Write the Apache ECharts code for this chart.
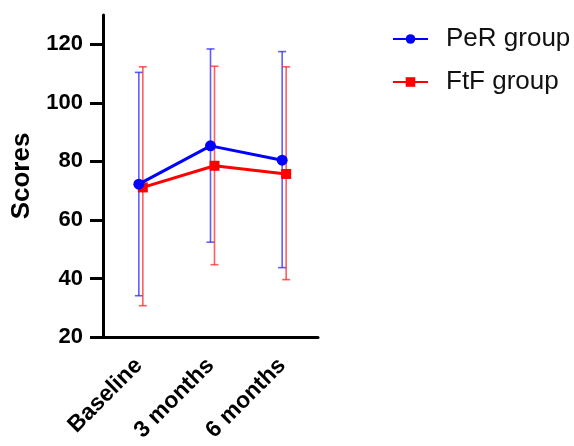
<!DOCTYPE html>
<html><head><meta charset="utf-8">
<script src="https://cdn.jsdelivr.net/npm/echarts@6/dist/echarts.min.js"></script>
<style>html,body{margin:0;padding:0;background:#fff}#c{width:574px;height:446px}</style>
</head><body><div id="c"></div>
<script>
const categories = ['Baseline', '3 months', '6 months'];
const perMean = [72.2, 85.3, 80.4];
const perUpper = [110.4, 118.4, 117.5];
const perLower = [34.1, 52.4, 43.7];
const ftfMean = [71.1, 78.5, 75.7];
const ftfUpper = [112.3, 112.5, 112.3];
const ftfLower = [30.7, 44.7, 39.6];
const yTicks = [20, 40, 60, 80, 100, 120];

const chart = echarts.init(document.getElementById('c'), null, {renderer: 'canvas'});
const FONT = 'Liberation Sans, Arial, sans-serif';

function errRender(color) {
  return function (params, api) {
    const top = api.coord([api.value(0), api.value(1)]);
    const bot = api.coord([api.value(0), api.value(2)]);
    const w = 4;
    const st = {stroke: color, lineWidth: 1.6};
    return {type: 'group', children: [
      {type: 'line', shape: {x1: top[0], y1: top[1], x2: bot[0], y2: bot[1]}, style: st},
      {type: 'line', shape: {x1: top[0] - w, y1: top[1], x2: top[0] + w, y2: top[1]}, style: st},
      {type: 'line', shape: {x1: bot[0] - w, y1: bot[1], x2: bot[0] + w, y2: bot[1]}, style: st}
    ]};
  };
}

const yBase = {type: 'value', min: 20, max: 130, interval: 20};
chart.setOption({
  animation: false,
  grid: [
    {left: 103, right: 256, top: 15, bottom: 109, containLabel: false},
    {left: 107, right: 252, top: 15, bottom: 109, containLabel: false}
  ],
  legend: {
    orient: 'vertical', left: 387, top: 21,
    itemWidth: 35, itemHeight: 12, itemGap: 17,
    textStyle: {fontFamily: FONT, fontSize: 26, color: '#111', padding: [0, 0, 0, 13]},
    data: ['PeR group', 'FtF group']
  },
  xAxis: [
    {type: 'category', gridIndex: 0, data: categories,
     axisLine: {lineStyle: {color: '#000', width: 3}},
     axisTick: {alignWithLabel: true, length: 13, lineStyle: {color: '#000', width: 3}},
     axisLabel: {rotate: 45, margin: 25, color: '#000', fontFamily: FONT, fontWeight: 'bold', fontSize: 23}},
    {type: 'category', gridIndex: 1, data: categories, show: false}
  ],
  yAxis: [
    Object.assign({}, yBase, {gridIndex: 0,
      name: 'Scores', nameLocation: 'middle', nameGap: 68, nameRotate: 90,
      nameTextStyle: {fontFamily: FONT, fontWeight: 'bold', fontSize: 26, color: '#000'},
      axisLine: {show: true, lineStyle: {color: '#000', width: 3}},
      axisTick: {show: true, length: 13, lineStyle: {color: '#000', width: 3}, customValues: yTicks},
      axisLabel: {margin: 20, color: '#000', fontFamily: FONT, fontWeight: 'bold', fontSize: 22, customValues: yTicks},
      splitLine: {show: false}}),
    Object.assign({}, yBase, {gridIndex: 1, show: false, splitLine: {show: false}})
  ],
  series: [
    {type: 'custom', name: 'perErr', xAxisIndex: 0, yAxisIndex: 0, z: 1,
     renderItem: errRender('rgba(40,40,255,0.75)'),
     data: categories.map((c, i) => [i, perUpper[i], perLower[i]])},
    {type: 'custom', name: 'ftfErr', xAxisIndex: 1, yAxisIndex: 1, z: 1,
     renderItem: errRender('rgba(255,40,40,0.75)'),
     data: categories.map((c, i) => [i, ftfUpper[i], ftfLower[i]])},
    {type: 'line', name: 'FtF group', xAxisIndex: 1, yAxisIndex: 1, z: 3,
     data: ftfMean, symbol: 'rect', symbolSize: 10,
     lineStyle: {color: '#ff0000', width: 3}, itemStyle: {color: '#ff0000'}},
    {type: 'line', name: 'PeR group', xAxisIndex: 0, yAxisIndex: 0, z: 4,
     data: perMean, symbol: 'circle', symbolSize: 11,
     lineStyle: {color: '#0000ff', width: 3}, itemStyle: {color: '#0000ff'}}
  ]
});
</script></body></html>
